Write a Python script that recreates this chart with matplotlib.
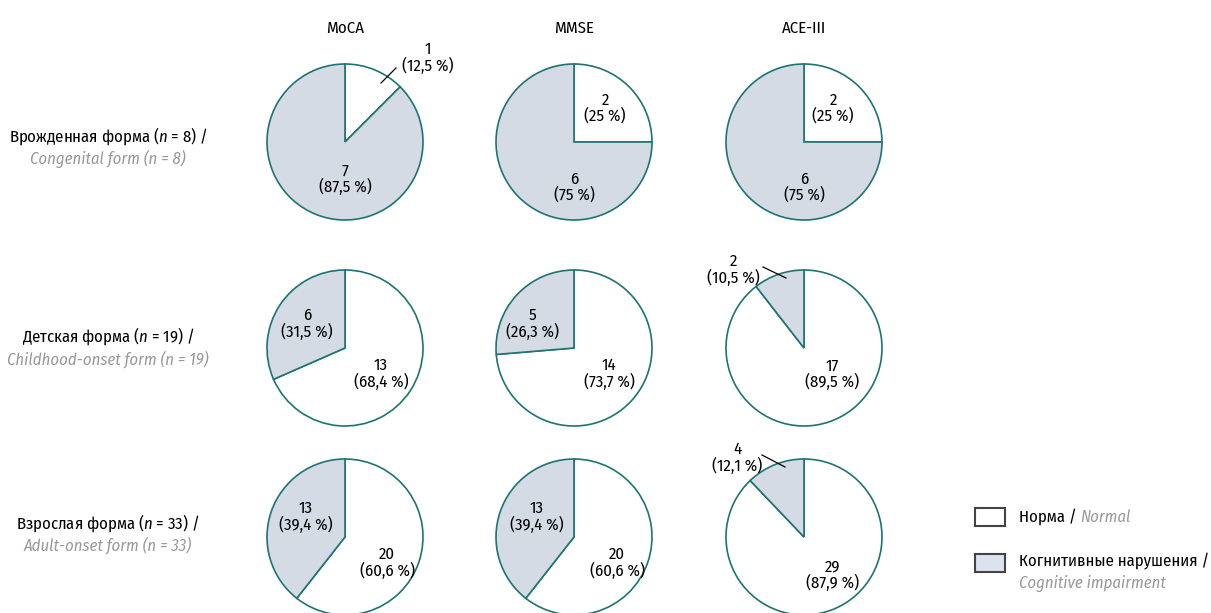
import matplotlib.pyplot as plt
from matplotlib.patches import Rectangle

FAMILY = ['Fira Sans Condensed', 'Roboto Condensed', 'Liberation Sans Narrow', 'DejaVu Sans']
plt.rcParams['font.family'] = FAMILY
plt.rcParams['mathtext.fontset'] = 'custom'
plt.rcParams['mathtext.rm'] = FAMILY[0]
plt.rcParams['mathtext.it'] = FAMILY[0] + ':italic'

tests = ['MoCA', 'MMSE', 'ACE-III']
groups_ru = ['Врожденная форма ($n$ = 8) /', 'Детская форма ($n$ = 19) /', 'Взрослая форма ($n$ = 33) /']
groups_en = ['Congenital form (n = 8)', 'Childhood-onset form (n = 19)', 'Adult-onset form (n = 33)']

# rows = groups, columns = tests
normal = [[1, 2, 2], [13, 14, 17], [20, 20, 29]]
impaired = [[7, 6, 6], [6, 5, 2], [13, 13, 4]]
pct_normal = [['12,5', '25', '25'], ['68,4', '73,7', '89,5'], ['60,6', '60,6', '87,9']]
pct_impaired = [['87,5', '75', '75'], ['31,5', '26,3', '10,5'], ['39,4', '39,4', '12,1']]

# label offsets from the pie centre in pixels (dx, dy down); outside labels get a leader
off_normal = [[(83, -84), (31, -34), (29, -34)],
              [(36, 26), (35, 26), (28, 26)],
              [(42, 26), (43, 26), (29, 38)]]
off_impaired = [[(0, 37), (0, 45), (0, 45)],
                [(-38, -24), (-42, -24), (-71, -78)],
                [(-39, -20), (-37, -20), (-67, -79)]]
leaders = {(0, 0, 'n'): ((36, -59), (51, -74)),
           (1, 2, 'i'): ((-41, -81), (-18, -70)),
           (2, 2, 'i'): ((-42, -82), (-19, -70))}

W, H = 1211, 613
col_x = [345, 574, 804]
row_y = [142, 348, 537]
ru_y = [136, 336, 523]
en_y = [159, 359, 545]
R = 78
edge = '#1d7472'
grey = '#d5dbe4'
it_grey = '#999999'
fs = 12

fig = plt.figure(figsize=(W / 100, H / 100), dpi=100)
ax = fig.add_axes([0, 0, 1, 1])

for j, t in enumerate(tests):
    ax.text(col_x[j], H - 28, t, ha='center', va='center', fontsize=fs)

for i in range(3):
    cy = H - row_y[i]
    ax.text(108, H - ru_y[i], groups_ru[i], ha='center', va='center', fontsize=fs)
    ax.text(108, H - en_y[i], groups_en[i], ha='center', va='center', fontsize=fs,
            style='italic', color=it_grey)
    for j in range(3):
        cx = col_x[j]
        ax.pie([normal[i][j], impaired[i][j]], colors=['white', grey], startangle=90,
               counterclock=False, center=(cx, cy), radius=R, frame=True,
               wedgeprops=dict(edgecolor=edge, linewidth=1.2))
        for key, val, pct, off in [('n', normal[i][j], pct_normal[i][j], off_normal[i][j]),
                                   ('i', impaired[i][j], pct_impaired[i][j], off_impaired[i][j])]:
            ax.text(cx + off[0], cy - off[1], f'{val}\n({pct} %)', ha='center', va='center',
                    fontsize=fs, linespacing=0.95)
            if (i, j, key) in leaders:
                p0, p1 = leaders[(i, j, key)]
                ax.plot([cx + p0[0], cx + p1[0]], [cy - p0[1], cy - p1[1]], color='black', lw=0.9)

# legend
ax.add_patch(Rectangle((975, H - 526), 30, 18, facecolor='white', edgecolor='#444444', lw=1.5))
ax.add_patch(Rectangle((975, H - 572), 30, 18, facecolor='#dce3ef', edgecolor='#444444', lw=1.5))
t = ax.text(1019, H - 517, 'Норма / ', ha='left', va='center', fontsize=fs)
fig.canvas.draw()
bb = t.get_window_extent().transformed(ax.transData.inverted())
ax.text(bb.x1, H - 517, 'Normal', ha='left', va='center', fontsize=fs, style='italic', color=it_grey)
ax.text(1019, H - 561, 'Когнитивные нарушения /', ha='left', va='center', fontsize=fs)
ax.text(1019, H - 583, 'Cognitive impairment', ha='left', va='center', fontsize=fs,
        style='italic', color=it_grey)

ax.set_xlim(0, W)
ax.set_ylim(0, H)
ax.set_aspect('auto')
ax.axis('off')

fig.savefig('out.png', dpi=100)
